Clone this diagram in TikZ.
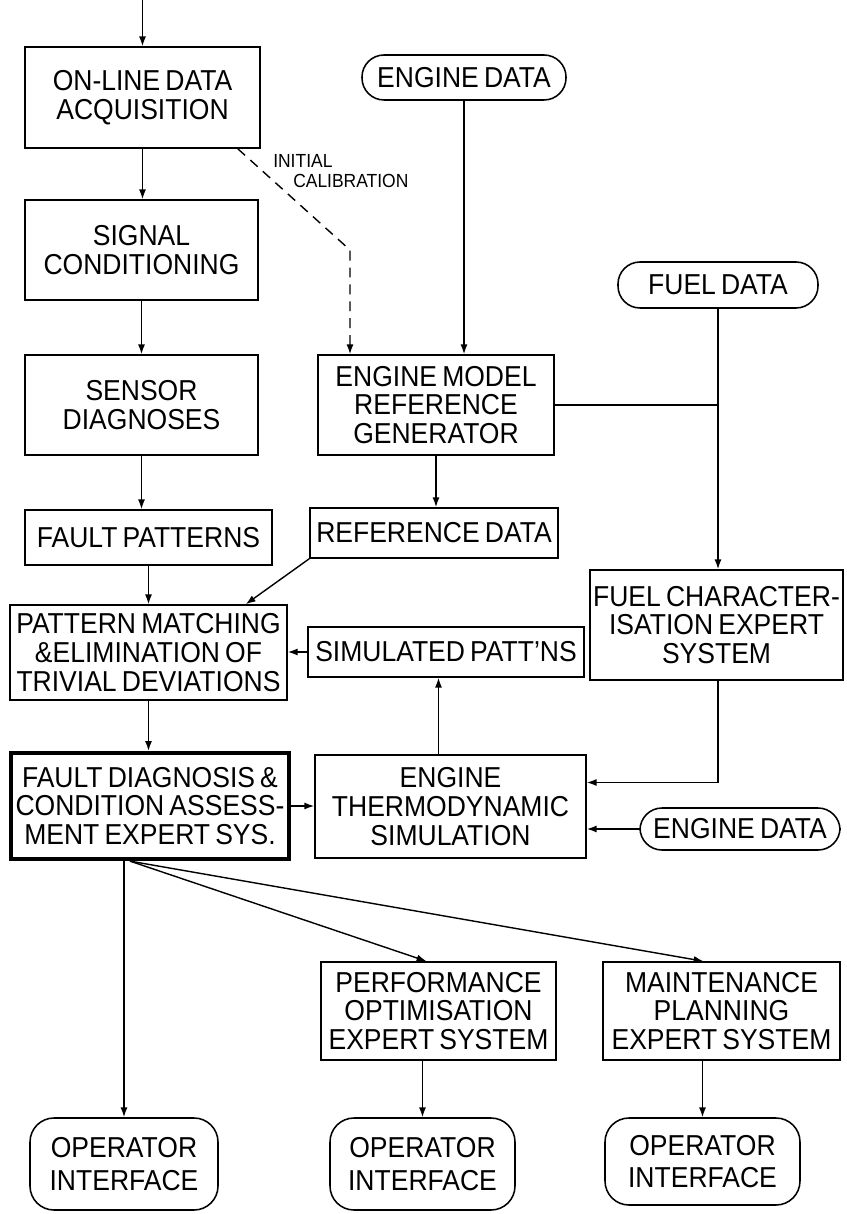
\documentclass[tikz,border=0pt]{standalone}
\usepackage{fontspec}
\setmainfont{Liberation Sans}[FakeStretch=0.92, WordSpace=0.7]
\usetikzlibrary{arrows.meta, positioning, calc}

\begin{document}
\begin{tikzpicture}[
    procbox/.style={rectangle, draw, line width=1.1pt,
        align=center, inner xsep=0pt, inner ysep=1pt,
        font=\fontsize{20.5}{20.5}\selectfont},
    expertbox/.style={procbox, line width=3pt},
    databox/.style={rectangle, rounded corners=0.55cm, draw, line width=1.1pt,
        align=center, inner xsep=0pt, inner ysep=1pt,
        font=\fontsize{20.5}{20.5}\selectfont},
    userbox/.style={databox, rounded corners=0.6cm,
        font=\fontsize{20.5}{23}\selectfont},
    arr/.style={-{Latex[length=7pt, width=5pt]}, line width=1pt},
    joinline/.style={line width=1pt},
    calarr/.style={-{Latex[length=7pt, width=5pt]}, line width=1pt,
        dash pattern=on 7pt off 5pt},
    calnote/.style={font=\fontsize{13.5}{14.5}\selectfont, align=left,
        inner sep=0pt},
]
\useasboundingbox (0,0) rectangle (21.15,-30.35);

% ── LEFT COLUMN ─────────────────────────────────────────────────────────────
\node[procbox, minimum width=5.875cm, minimum height=2.525cm] at (3.5625, -2.4375) (acq)
    {ON-LINE DATA\\ACQUISITION};
\node[procbox, minimum width=5.825cm, minimum height=2.5cm]   at (3.5375, -6.25)   (cond)
    {SIGNAL\\CONDITIONING};
\node[procbox, minimum width=5.825cm, minimum height=2.5cm]   at (3.5375, -10.125) (sens)
    {SENSOR\\DIAGNOSES};
\node[procbox, minimum width=6.175cm, minimum height=1.375cm] at (3.7125, -13.4375) (fpat)
    {FAULT PATTERNS};
\node[procbox, minimum width=6.925cm, minimum height=2.375cm] at (3.7125, -16.3125) (pmatch)
    {PATTERN MATCHING\\\&ELIMINATION OF\\TRIVIAL DEVIATIONS};
\node[expertbox, minimum width=6.95cm, minimum height=2.65cm] at (3.75, -20.15)   (fdiag)
    {FAULT DIAGNOSIS \&\\CONDITION ASSESS-\\MENT EXPERT SYS.};

\coordinate (feed) at (3.5625, 0);
\draw[arr] (feed) -- (acq.north);
\draw[arr] (acq.south)  -- (acq.south |- cond.north);
\draw[arr] (cond.south) -- (cond.south |- sens.north);
\draw[arr] (sens.south) -- (sens.south |- fpat.north);
\draw[arr] (fpat.south) -- (fpat.south |- pmatch.north);
\draw[arr] (pmatch.south) -- (pmatch.south |- fdiag.north);

% ── MIDDLE COLUMN ───────────────────────────────────────────────────────────
\node[databox, minimum width=5.1cm, minimum height=1.125cm]  at (11.6, -1.9375)  (edata1)
    {ENGINE DATA};
\node[procbox, minimum width=5.9cm, minimum height=2.5cm]    at (10.9, -10.125)  (emodel)
    {ENGINE MODEL\\REFERENCE\\GENERATOR};
\node[procbox, minimum width=6.2cm, minimum height=1.25cm]   at (10.85, -13.325) (refdata)
    {REFERENCE DATA};
\node[procbox, minimum width=6.9cm, minimum height=1.25cm]   at (11.15, -16.3)   (simpat)
    {SIMULATED PATT’NS};
\node[procbox, minimum width=6.775cm, minimum height=2.575cm] at (11.2625, -20.1625) (thermo)
    {ENGINE\\THERMODYNAMIC\\SIMULATION};

% initial calibration path (dashed)
\coordinate (calbend) at (8.75, -6.25);
\draw[calarr] ([xshift=-0.575cm]acq.south east) -- (calbend) -- (calbend |- emodel.north);
\node[calnote, anchor=north west] at (6.825, -3.85) (calib)
    {INITIAL\\\hspace*{0.5cm}CALIBRATION};

\draw[arr] (edata1.south) -- (edata1.south |- emodel.north);
\draw[arr] (emodel.south) -- (emodel.south |- refdata.north);
\draw[arr] (refdata.south west) -- ([xshift=-1.05cm]pmatch.north east);
\draw[arr] (simpat.west) -- (simpat.west -| pmatch.east);
\draw[arr] ([xshift=-0.3cm]thermo.north) -- ([xshift=-0.3cm]thermo.north |- simpat.south);
\draw[arr] (fdiag.east) -- (fdiag.east -| thermo.west);

% ── RIGHT COLUMN ────────────────────────────────────────────────────────────
\node[databox, minimum width=5.0cm, minimum height=1.15cm]   at (17.95, -7.125)  (fdata)
    {FUEL DATA};
\node[procbox, minimum width=6.325cm, minimum height=2.75cm] at (17.9125, -15.625) (fchar)
    {FUEL CHARACTER-\\ISATION EXPERT\\SYSTEM};
\node[databox, minimum width=5.0cm, minimum height=1.05cm]   at (18.5, -20.725)  (edata2)
    {ENGINE DATA};

\coordinate (fueljoin) at (fdata.south |- emodel.east);
\draw[joinline] (emodel.east) -- (fueljoin);
\draw[arr] (fdata.south) -- (fdata.south |- fchar.north);
\draw[arr] (fchar.south -| fdata.south) |- ([yshift=0.6cm]thermo.east);
\draw[arr] (edata2.west) -- (edata2.west -| thermo.east);

% ── EXPERT SYSTEMS AND OPERATOR INTERFACES ──────────────────────────────────
\node[procbox, minimum width=5.875cm, minimum height=2.45cm] at (10.9625, -25.275) (perf)
    {PERFORMANCE\\OPTIMISATION\\EXPERT SYSTEM};
\node[procbox, minimum width=5.925cm, minimum height=2.45cm] at (18.0375, -25.275) (maint)
    {MAINTENANCE\\PLANNING\\EXPERT SYSTEM};

\node[userbox, minimum width=4.7cm, minimum height=2.3cm]    at (3.1, -29.1)      (op1)
    {OPERATOR\\INTERFACE};
\node[userbox, minimum width=4.625cm, minimum height=2.3cm]  at (10.5625, -29.1)  (op2)
    {OPERATOR\\INTERFACE};
\node[userbox, minimum width=4.875cm, minimum height=2.175cm] at (17.5625, -29.0375) (op3)
    {OPERATOR\\INTERFACE};

\coordinate (fanout) at ([xshift=-0.5cm]fdiag.south);
\draw[arr] (op1.north |- fdiag.south) -- (op1.north);
\draw[arr] (fanout) -- ([xshift=-0.3cm]perf.north);
\draw[arr] (fanout) -- ([xshift=-0.45cm]maint.north);
\draw[arr] (op2.north |- perf.south) -- (op2.north);
\draw[arr] (op3.north |- maint.south) -- (op3.north);

\end{tikzpicture}
\end{document}
